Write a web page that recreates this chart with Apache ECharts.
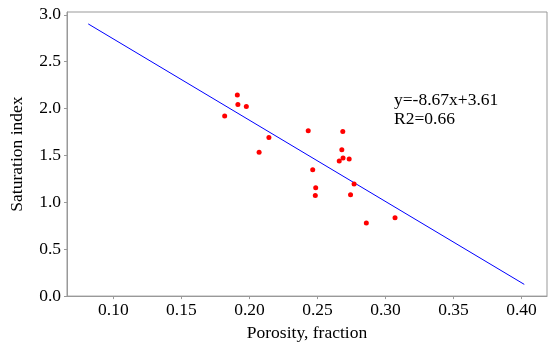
<!DOCTYPE html>
<html>
<head>
<meta charset="utf-8">
<script src="https://cdn.jsdelivr.net/npm/echarts@6/dist/echarts.min.js"></script>
<style>html,body{margin:0;padding:0;background:#fff}#c{width:550px;height:347px}</style>
</head>
<body>
<div id="c"></div>
<script>
var porosity = [0.1818,0.1911,0.1915,0.1977,0.2143,0.2071,0.2432,0.2686,0.2679,0.2688,0.2660,0.2733,0.2465,0.2487,0.2484,0.2769,0.2743,0.2859,0.3070];
var saturation = [1.921,2.144,2.044,2.021,1.691,1.533,1.763,1.756,1.560,1.474,1.440,1.461,1.347,1.155,1.072,1.196,1.082,0.780,0.835];
var fitX = [0.0815, 0.402];
var fitY = [2.903, 0.125];
var xTicks = [0.10,0.15,0.20,0.25,0.30,0.35,0.40];
var yTicks = [0.0,0.5,1.0,1.5,2.0,2.5,3.0];
var equationText = 'y=-8.67x+3.61';
var r2Text = 'R2=0.66';

var pts = porosity.map(function(x,i){return [x, saturation[i]];});
var fit = fitX.map(function(x,i){return [x, fitY[i]];});
var font = '"Liberation Serif","Times New Roman",serif';
var axisCol = '#999999';

var chart = echarts.init(document.getElementById('c'), null, {renderer:'canvas'});
chart.setOption({
  animation:false,
  backgroundColor:'#ffffff',
  grid:{left:51, right:3, top:12, bottom:41, show:true, borderColor:axisCol, borderWidth:1},
  xAxis:{
    type:'value', min:0.0659, max:0.4187,
    name:'Porosity, fraction', nameLocation:'middle', nameGap:23,
    nameTextStyle:{fontFamily:font, fontSize:17.5, color:'#000'},
    axisLine:{show:true, lineStyle:{color:axisCol}},
    axisTick:{show:true, inside:false, length:3, lineStyle:{color:axisCol}, customValues:xTicks},
    axisLabel:{fontFamily:font, fontSize:17.5, color:'#000', margin:5, customValues:xTicks,
      formatter:function(v){return v.toFixed(2);}},
    splitLine:{show:false}
  },
  yAxis:{
    type:'value', min:0, max:3.03,
    name:'Saturation index', nameLocation:'middle', nameGap:41, nameRotate:90,
    nameTextStyle:{fontFamily:font, fontSize:17.5, color:'#000'},
    axisLine:{show:true, lineStyle:{color:axisCol}},
    axisTick:{show:true, inside:false, length:3, lineStyle:{color:axisCol}, customValues:yTicks},
    axisLabel:{fontFamily:font, fontSize:17.5, color:'#000', margin:6, customValues:yTicks,
      formatter:function(v){return v.toFixed(1);}},
    splitLine:{show:false}
  },
  graphic:[
    {type:'text', left:394, top:91, style:{text:equationText, font:'17.5px '+font, fill:'#000'}},
    {type:'text', left:394, top:110, style:{text:r2Text, font:'17.5px '+font, fill:'#000'}}
  ],
  series:[
    {type:'line', data:fit, showSymbol:false, symbol:'none', lineStyle:{color:'#0000ff', width:1}, z:2},
    {type:'scatter', data:pts, symbol:'circle', symbolSize:5, itemStyle:{color:'#ff0000', opacity:1}, z:3}
  ]
});
</script>
</body>
</html>
